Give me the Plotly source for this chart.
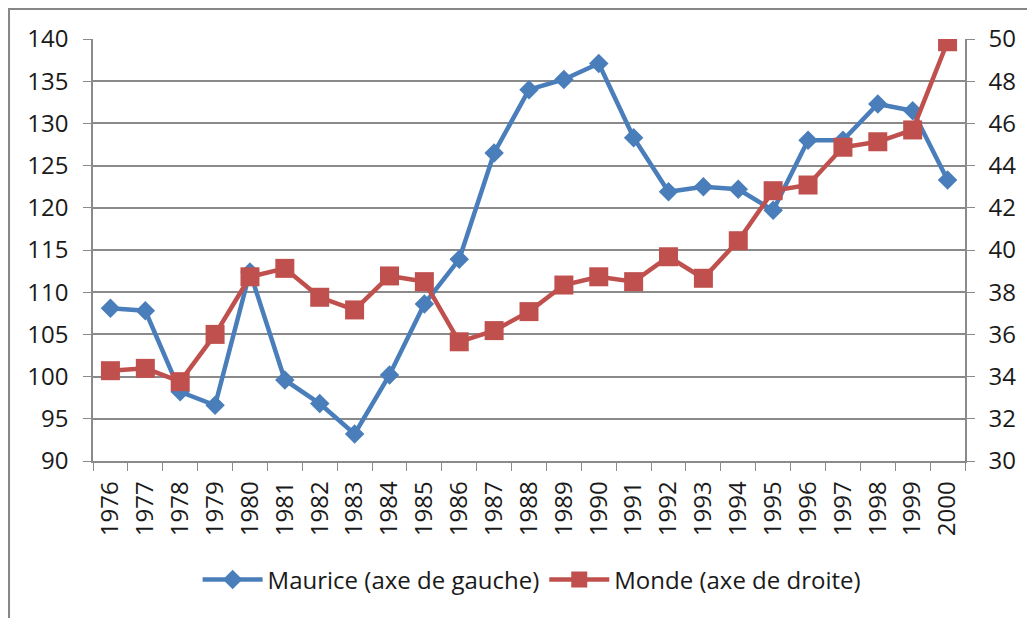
import plotly.graph_objects as go

years = [str(y) for y in range(1976, 2001)]
maurice = [108.1, 107.8, 98.2, 96.6, 112.4, 99.6, 96.8, 93.2, 100.2, 108.6,
           113.9, 126.5, 134.0, 135.2, 137.1, 128.3, 121.9, 122.5, 122.2, 119.7,
           128.0, 128.0, 132.3, 131.5, 123.3]
monde = [34.28, 34.39, 33.76, 36.0, 38.73, 39.13, 37.76, 37.16, 38.77, 38.5,
         35.65, 36.18, 37.08, 38.34, 38.73, 38.5, 39.68, 38.66, 40.44, 42.81,
         43.08, 44.87, 45.13, 45.69, 49.87]
left_ticks = list(range(90, 145, 5))
right_ticks = list(range(30, 52, 2))

BLUE = "#4A7EBB"
RED = "#C0504D"
GRID = "#8A8A8A"
FONT = "Open Sans, Liberation Sans, sans-serif"
TICKSIZE = 24

fig = go.Figure()
fig.add_trace(go.Scatter(
    x=years, y=maurice, name="Maurice (axe de gauche)", mode="lines+markers",
    line=dict(color=BLUE, width=4.5),
    marker=dict(symbol="diamond", size=15, color=BLUE), yaxis="y"))
fig.add_trace(go.Scatter(
    x=years, y=monde, name="Monde (axe de droite)", mode="lines+markers",
    line=dict(color=RED, width=4.5),
    marker=dict(symbol="square", size=19, color=RED), yaxis="y2"))

fig.update_layout(
    width=1035, height=618,
    margin=dict(l=85, r=78, t=31, b=165),
    paper_bgcolor="white", plot_bgcolor="white",
    font=dict(family=FONT, size=TICKSIZE, color="#1a1a1a"),
    showlegend=True,
    legend=dict(orientation="h", x=0.503, xanchor="center", y=-0.282, yanchor="middle",
                font=dict(size=24), traceorder="normal", itemwidth=60),
    xaxis=dict(type="category", showgrid=False, showline=True, linecolor=GRID, linewidth=1.5,
               ticks="outside", ticklen=8, tickcolor=GRID, tickson="boundaries",
               tickangle=-90, tickfont=dict(size=TICKSIZE), range=[-0.5, 24.5],
               ticklabelstandoff=9),
    yaxis=dict(range=[90, 140], tickvals=left_ticks, showgrid=True, gridcolor=GRID, gridwidth=1.5,
               showline=True, linecolor=GRID, linewidth=1.5, ticks="outside", ticklen=8,
               tickcolor=GRID, zeroline=False, tickfont=dict(size=TICKSIZE),
               ticklabelstandoff=10),
    yaxis2=dict(range=[30, 50], tickvals=right_ticks, overlaying="y", side="right",
                showgrid=False, showline=True, linecolor=GRID, linewidth=1.5, ticks="outside",
                ticklen=8, tickcolor=GRID, zeroline=False, tickfont=dict(size=TICKSIZE),
                ticklabelstandoff=9),
)

fig.add_shape(type="rect", xref="paper", yref="paper",
              x0=-0.0963, x1=1.1, y0=-0.5, y1=1.071,
              line=dict(color="#868686", width=2), fillcolor="rgba(0,0,0,0)", layer="below")

fig.write_html("out.html")
